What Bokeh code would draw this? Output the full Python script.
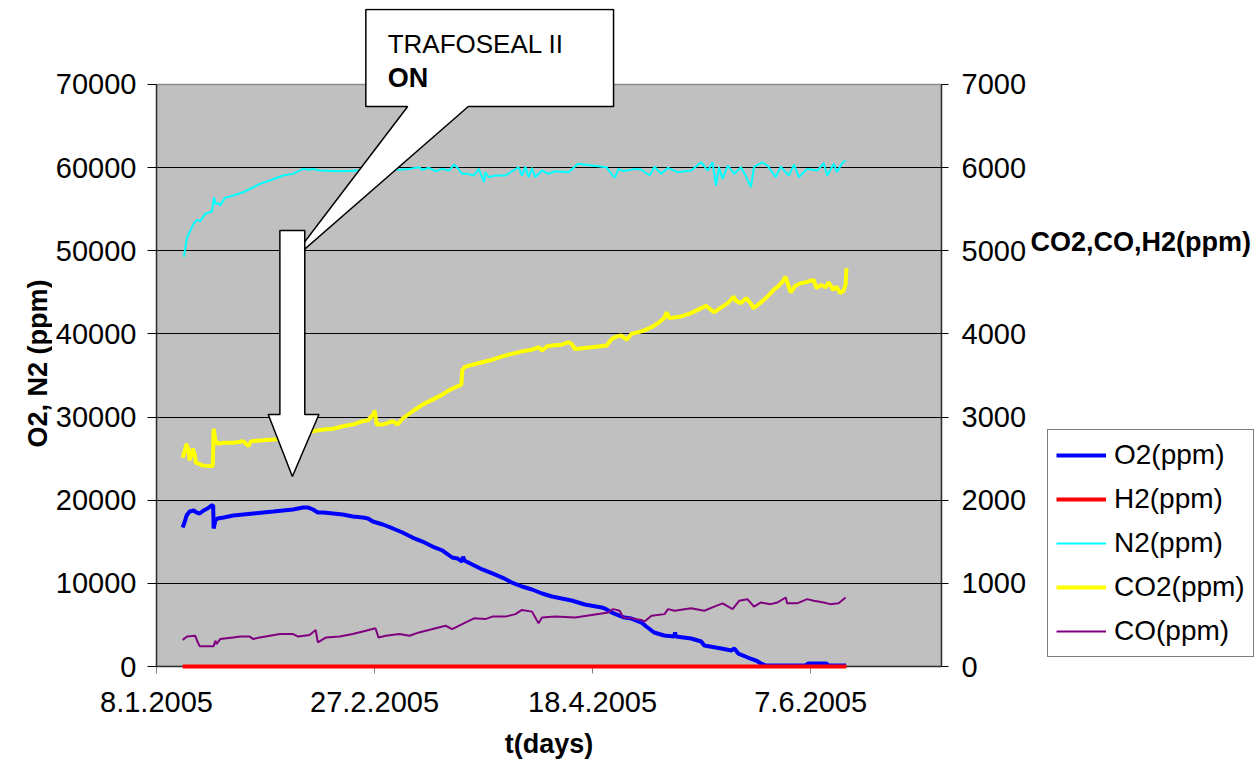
import math
from bokeh.plotting import figure
from bokeh.layouts import row
from bokeh.models import (Range1d, LinearAxis, FixedTicker, Legend, LegendItem,
                          PolyAnnotation, Label)
from bokeh.embed import file_html
from bokeh.resources import INLINE

# ---------------- data (x = days since 8.1.2005) ----------------
tick_days = [0, 50, 100, 150]
tick_labels = ["8.1.2005", "27.2.2005", "18.4.2005", "7.6.2005"]
left_ticks = [0, 10000, 20000, 30000, 40000, 50000, 60000, 70000]
right_ticks = [0, 1000, 2000, 3000, 4000, 5000, 6000, 7000]

o2_days = [6.0, 6.5, 6.9, 7.6, 8.5, 9.2, 9.9, 10.8, 11.7, 12.6, 13.0, 13.1, 13.5, 14.0, 15.4,
           17.6, 19.9, 22.2, 24.5, 26.8, 29.0, 31.3, 33.6, 34.8, 35.9, 37.0, 38.2, 40.5, 42.7,
           45.0, 47.3, 48.5, 49.6, 51.9, 54.2, 56.4, 58.7, 61.0, 63.3, 65.6, 67.8, 69.0, 70.1,
           70.3, 70.6, 72.4, 74.7, 77.0, 79.3, 81.5, 83.8, 86.1, 88.4, 90.7, 92.9, 95.2, 98.2,
           102.1, 103.2, 104.4, 107.3, 108.9, 111.2, 112.3, 114.1, 116.4, 118.7, 118.9, 119.1,
           122.6, 124.9, 125.6, 129.5, 131.8, 132.5, 133.4, 135.6, 137.5, 138.6, 139.7, 140.9,
           145.4, 148.8, 149.5, 153.6, 154.1, 158.1]
o2_ppm = [16720, 17440, 18160, 18640, 18760, 18520, 18400, 18760, 19000, 19360, 19360, 16600,
          17560, 17800, 17920, 18160, 18280, 18400, 18520, 18640, 18760, 18880, 19120, 19120,
          18880, 18520, 18520, 18400, 18280, 18040, 17920, 17800, 17440, 17080, 16600, 16120,
          15510, 15030, 14430, 13950, 13110, 12990, 12630, 13230, 12750, 12270, 11670, 11190,
          10700, 10100, 9620, 9260, 8780, 8420, 8180, 7940, 7460, 7100, 6860, 6490, 5890, 5770,
          5290, 4810, 4090, 3730, 3610, 4090, 3610, 3370, 3010, 2530, 2170, 1920, 2170, 1560,
          1080, 720, 360, 120, 120, 120, 120, 360, 360, 120, 120]

h2_days = [6.0, 40.0, 80.0, 120.0, 158.2]
h2_ppm = [0, 0, 0, 0, 0]

n2_days = [6.3, 7.0, 7.4, 8.5, 9.3, 10.0, 11.2, 12.7, 13.2, 13.5, 14.2, 14.6, 15.7, 17.6, 19.9,
           21.4, 23.7, 26.0, 29.0, 31.3, 33.6, 35.1, 35.9, 37.4, 42.0, 46.5, 55.7, 58.0, 60.2,
           61.0, 62.5, 64.0, 65.5, 67.1, 68.2, 69.0, 70.1, 71.3, 72.8, 73.9, 75.1, 75.4, 76.2,
           77.7, 80.0, 83.0, 83.8, 84.6, 85.3, 86.1, 86.8, 88.4, 89.9, 91.4, 94.5, 95.6, 96.7,
           99.8, 103.2, 104.3, 105.1, 105.9, 107.0, 109.7, 111.2, 113.1, 114.2, 115.7, 117.3,
           119.5, 122.6, 124.9, 126.4, 127.5, 128.3, 129.0, 129.8, 131.0, 132.5, 134.0, 135.1,
           136.3, 137.0, 138.9, 140.1, 142.0, 143.1, 145.0, 146.2, 147.3, 149.2, 151.5, 153.0,
           153.8, 155.3, 156.0, 157.2, 158.0]
n2_ppm = [49300, 51630, 52040, 53240, 53720, 53560, 54440, 54720, 56440, 55650, 55720, 55440,
          56360, 56650, 57040, 57450, 58050, 58450, 59050, 59250, 59850, 59740, 59850, 59650,
          59570, 59650, 59740, 59850, 60050, 59740, 59980, 59570, 59850, 59650, 60370, 59980,
          59250, 59250, 59050, 59850, 58250, 59450, 58850, 59050, 59050, 60050, 59050, 60130,
          58850, 59980, 58850, 59650, 59250, 59570, 59450, 59980, 60460, 60250, 60050, 59250,
          58770, 59850, 59570, 59850, 59740, 59050, 60130, 59250, 59980, 59450, 59650, 60650,
          59650, 60650, 57850, 60050, 58650, 60250, 59250, 60050, 59050, 57650, 60050, 60650,
          60250, 58850, 60130, 59050, 60370, 58850, 59850, 59650, 60530, 59050, 60460, 59450,
          60530, 60860]

co2_days = [6.0, 6.5, 6.9, 7.4, 7.6, 8.1, 8.3, 8.8, 9.0, 9.7, 10.3, 11.9, 12.9, 13.1, 13.5,
            14.0, 15.4, 17.6, 19.9, 21.1, 21.7, 24.5, 26.8, 29.0, 31.3, 33.6, 35.9, 38.2, 40.5,
            42.7, 45.0, 47.3, 48.5, 49.8, 50.0, 50.5, 51.9, 54.2, 55.3, 56.4, 58.7, 61.0, 63.3,
            65.6, 66.7, 67.8, 69.0, 69.9, 70.1, 70.6, 72.4, 74.7, 77.0, 79.3, 81.5, 83.8, 86.1,
            87.7, 88.4, 89.5, 90.7, 92.9, 94.5, 95.2, 95.9, 99.8, 103.2, 104.4, 105.5, 106.6,
            107.8, 108.9, 111.2, 113.5, 115.0, 116.4, 117.0, 117.6, 120.3, 122.6, 124.9, 126.0,
            127.8, 129.5, 131.0, 132.4, 132.8, 134.0, 135.2, 136.2, 136.9, 138.6, 140.1, 141.5,
            142.7, 143.7, 144.2, 144.9, 145.4, 146.5, 147.7, 148.8, 150.0, 150.7, 151.3, 152.4,
            153.4, 154.1, 155.2, 155.9, 156.8, 157.5, 158.0, 158.2]
co2_ppm = [2510, 2600, 2680, 2570, 2480, 2570, 2620, 2540, 2450, 2440, 2420, 2410, 2410, 2860,
           2720, 2680, 2690, 2690, 2710, 2650, 2710, 2720, 2730, 2740, 2770, 2800, 2830, 2850,
           2860, 2890, 2910, 2950, 2960, 3040, 3080, 2910, 2910, 2950, 2910, 2980, 3070, 3150,
           3210, 3270, 3310, 3340, 3370, 3390, 3560, 3600, 3630, 3660, 3690, 3730, 3760, 3790,
           3810, 3840, 3800, 3850, 3860, 3870, 3900, 3880, 3820, 3840, 3860, 3940, 3970, 3980,
           3930, 4000, 4030, 4080, 4130, 4190, 4260, 4190, 4210, 4250, 4310, 4340, 4260, 4320,
           4370, 4450, 4400, 4370, 4430, 4370, 4310, 4380, 4450, 4530, 4580, 4640, 4690, 4580,
           4500, 4580, 4610, 4620, 4640, 4650, 4550, 4590, 4560, 4620, 4530, 4570, 4490, 4520,
           4590, 4790]

co_days = [6.0, 7.0, 8.9, 9.3, 9.9, 13.1, 13.5, 13.8, 14.6, 17.6, 19.2, 21.4, 22.2, 23.7, 26.0,
           28.3, 31.3, 32.5, 35.1, 36.5, 37.0, 38.9, 42.0, 45.0, 48.0, 50.2, 50.9, 52.6, 55.7,
           58.0, 60.2, 64.0, 66.3, 67.8, 70.1, 72.8, 75.4, 77.0, 80.0, 82.3, 83.8, 86.1, 87.6,
           88.4, 91.4, 96.0, 103.6, 104.7, 106.2, 107.0, 108.9, 111.2, 111.9, 113.5, 116.5,
           117.3, 118.8, 122.6, 125.6, 127.9, 129.8, 132.1, 133.6, 135.5, 137.0, 138.6, 140.8,
           142.4, 144.3, 144.6, 146.9, 149.2, 150.7, 153.0, 154.5, 156.4, 158.0]
co_ppm = [320, 360, 370, 310, 245, 245, 310, 270, 330, 350, 360, 360, 330, 350, 370, 390, 390,
          360, 380, 440, 290, 350, 360, 390, 430, 460, 350, 370, 390, 370, 410, 460, 490, 450,
          510, 580, 570, 600, 600, 630, 680, 660, 520, 590, 600, 590, 650, 690, 670, 590, 580,
          560, 540, 610, 630, 690, 670, 700, 670, 720, 760, 690, 790, 810, 720, 770, 750, 770,
          830, 760, 760, 810, 790, 770, 750, 760, 830]

series_names = ["O2(ppm)", "H2(ppm)", "N2(ppm)", "CO2(ppm)", "CO(ppm)"]
series_colors = ["#0000FF", "#FF0000", "#00FFFF", "#FFFF00", "#800080"]
series_widths = [4, 4, 2, 4, 2]

FONT = "Liberation Sans"
H = 769
TOP, BOTTOM = 8, 103           # borders shared by all three panels (frames are aligned)
FRAME_H = H - TOP - BOTTOM     # 658 px
X_MAX = 180        # 7.7.2005, right edge of the plot area
Y_MAX = 70000
Y_TOP = 79140      # frame reaches above the plot area (room for the callout)
Y2_TOP = 7914.0


def blank(width):
    f = figure(width=width, height=H, x_range=Range1d(0, width), y_range=Range1d(0, FRAME_H),
               output_backend="svg", toolbar_location=None,
               x_axis_location=None, y_axis_location=None,
               min_border_left=0, min_border_right=0, min_border_top=TOP,
               min_border_bottom=BOTTOM)
    f.grid.grid_line_color = None
    f.outline_line_color = None
    f.background_fill_color = "white"
    f.border_fill_color = "white"
    return f


def sy(y_screen):
    """screen y (px from top of page) -> y of the blank panels' pixel range"""
    return (H - BOTTOM) - y_screen


# ---------------- left strip: y-axis title ----------------
pl = blank(52)
pl.add_layout(Label(x=37, y=sy(363), text="O2, N2 (ppm)", angle=math.pi / 2,
                    text_font=FONT, text_font_style="bold", text_font_size="27px",
                    text_color="black", text_align="center", text_baseline="middle"))

# ---------------- main chart ----------------
p = figure(width=977, height=H, x_range=Range1d(0, X_MAX), y_range=Range1d(0, Y_TOP),
           output_backend="svg", toolbar_location=None,
           min_border_left=101, min_border_right=87, min_border_top=TOP,
           min_border_bottom=BOTTOM)
p.extra_y_ranges = {"right": Range1d(0, Y2_TOP)}
p.background_fill_color = "white"
p.border_fill_color = "white"
p.outline_line_color = None
p.xgrid.grid_line_color = None
p.ygrid.grid_line_color = "black"
p.ygrid.grid_line_width = 1
p.ygrid.ticker = FixedTicker(ticks=left_ticks[1:-1])

p.quad(left=[0], right=[X_MAX], bottom=[0], top=[Y_MAX], fill_color="#C0C0C0",
       line_color="#8C8C8C", line_width=1.5, level="image")

xa = p.xaxis[0]
xa.ticker = FixedTicker(ticks=tick_days)
xa.major_label_overrides = {d: l for d, l in zip(tick_days, tick_labels)}
xa.minor_tick_line_color = None
xa.major_tick_in = 0
xa.major_tick_out = 7
xa.major_tick_line_color = "#808080"
xa.axis_line_color = "#303030"
xa.axis_line_width = 1.5
xa.major_label_text_font = FONT
xa.major_label_text_font_size = "29px"
xa.major_label_text_color = "black"
xa.major_label_standoff = 18
xa.axis_label = "t(days)"
xa.axis_label_text_font = FONT
xa.axis_label_text_font_size = "27px"
xa.axis_label_text_font_style = "bold"
xa.axis_label_text_color = "black"
xa.axis_label_standoff = 14

ya = p.yaxis[0]
ya.bounds = (0, Y_MAX)
ya.ticker = FixedTicker(ticks=left_ticks)
ya.minor_tick_line_color = None
ya.major_tick_in = 0
ya.major_tick_out = 9
ya.major_tick_line_color = "black"
ya.axis_line_color = "#303030"
ya.axis_line_width = 1.5
ya.major_label_text_font = FONT
ya.major_label_text_font_size = "29px"
ya.major_label_text_color = "black"
ya.major_label_standoff = 11

ra = LinearAxis(y_range_name="right", ticker=FixedTicker(ticks=right_ticks), bounds=(0, 7000))
ra.minor_tick_line_color = None
ra.major_tick_in = 0
ra.major_tick_out = 7
ra.major_tick_line_color = "black"
ra.axis_line_color = "#303030"
ra.axis_line_width = 1.5
ra.major_label_text_font = FONT
ra.major_label_text_font_size = "29px"
ra.major_label_text_color = "black"
ra.major_label_standoff = 13
p.add_layout(ra, "right")

p.line(o2_days, o2_ppm, line_color=series_colors[0], line_width=series_widths[0])
p.line(n2_days, n2_ppm, line_color=series_colors[2], line_width=series_widths[2])
p.line(h2_days, h2_ppm, line_color=series_colors[1], line_width=series_widths[1],
       y_range_name="right", level="overlay")
p.line(co2_days, co2_ppm, line_color=series_colors[3], line_width=series_widths[3],
       y_range_name="right")
p.line(co_days, co_ppm, line_color=series_colors[4], line_width=series_widths[4],
       y_range_name="right")

# callout "TRAFOSEAL II ON" with pointer, and the block arrow
p.add_layout(PolyAnnotation(
    xs=[48.0, 104.8, 104.8, 71.5, 30.2, 57.6, 48.0],
    ys=[79017, 79017, 67350, 67350, 48470, 67350, 67350],
    fill_color="white", fill_alpha=1.0, line_color="black", line_alpha=1.0, line_width=1.5))
p.add_layout(PolyAnnotation(
    xs=[28.29, 34.0, 34.0, 37.24, 31.16, 25.62, 28.29],
    ys=[52440, 52440, 30310, 30310, 22850, 30310, 30310],
    fill_color="white", fill_alpha=1.0, line_color="black", line_alpha=1.0, line_width=1.5))
p.add_layout(Label(x=53.0, y=74930, text="TRAFOSEAL II", text_font=FONT,
                   text_font_size="26px", text_color="black", text_baseline="alphabetic",
                   text_align="left"))
p.add_layout(Label(x=53.0, y=70840, text="ON", text_font=FONT, text_font_style="bold",
                   text_font_size="27px", text_color="black", text_baseline="alphabetic",
                   text_align="left"))

# ---------------- right strip: right-axis title and legend ----------------
pr = blank(229)
pr.add_layout(Label(x=1, y=sy(241), text="CO2,CO,H2(ppm)", text_font=FONT,
                    text_font_style="bold", text_font_size="27px", text_color="black",
                    text_baseline="alphabetic", text_align="left"))
items = []
for name, color, width in zip(series_names, series_colors, series_widths):
    # legend swatch only: a segment parked outside the visible range of this strip
    r = pr.line(x=[-20, -10], y=[-20, -20], line_color=color, line_width=width)
    items.append(LegendItem(label=name, renderers=[r]))
legend = Legend(items=items, location=(18, (H - BOTTOM) - 657))
legend.label_text_font = FONT
legend.label_text_font_size = "28px"
legend.label_text_color = "black"
legend.glyph_width = 50
legend.glyph_height = 34
legend.label_height = 34
legend.label_standoff = 8
legend.spacing = 10
legend.padding = 8
legend.margin = 0
legend.border_line_color = "black"
legend.border_line_width = 1
legend.background_fill_color = "white"
legend.background_fill_alpha = 1.0
pr.add_layout(legend)

layout = row(pl, p, pr, spacing=0)
open("out.html", "w").write(file_html(layout, INLINE))
